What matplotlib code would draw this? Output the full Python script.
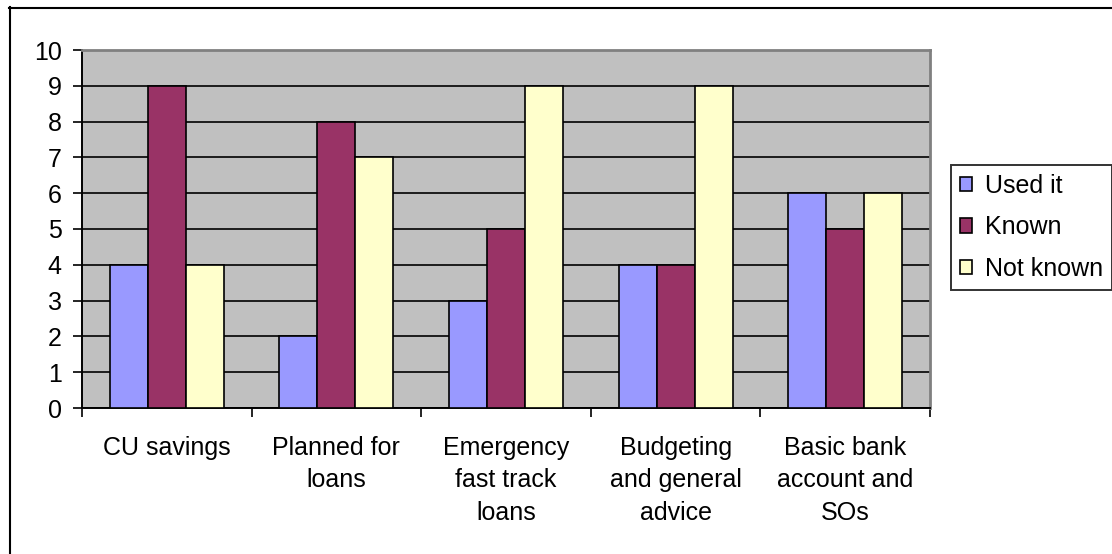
import numpy as np
import matplotlib.pyplot as plt
from matplotlib.lines import Line2D

categories = ["CU savings", "Planned for\nloans", "Emergency\nfast track\nloans",
              "Budgeting\nand general\nadvice", "Basic bank\naccount and\nSOs"]
used_it = [4, 2, 3, 4, 6]
known = [9, 8, 5, 4, 5]
not_known = [4, 7, 9, 9, 6]

series = [("Used it", used_it, "#9999FF"),
          ("Known", known, "#993366"),
          ("Not known", not_known, "#FFFFCC")]

plt.rcParams['font.family'] = ['Liberation Sans', 'DejaVu Sans']
plt.rcParams['font.size'] = 18

W, H = 1112, 554
fig = plt.figure(figsize=(W / 100, H / 100), dpi=100)
ax = fig.add_axes([82 / W, 1 - 408 / H, 848 / W, 358 / H])
ax.set_facecolor("#C0C0C0")

x = np.arange(len(categories))
bw = 0.224
for i, (name, vals, col) in enumerate(series):
    ax.bar(x + (i - 1) * bw, vals, bw, color=col, edgecolor="black",
           linewidth=1.2, label=name, zorder=3)

ax.set_xlim(-0.5, len(categories) - 0.5)
ax.set_ylim(0, 10)
ax.set_yticks(range(0, 11))
ax.yaxis.grid(True, color="black", linewidth=1.2, zorder=1)
ax.set_axisbelow(True)

# category boundaries as major ticks, names as minor ticks
ax.set_xticks(np.arange(-0.5, len(categories), 1.0))
ax.set_xticklabels([])
ax.set_xticks(x, minor=True)
ax.set_xticklabels(categories, minor=True, linespacing=1.45)
ax.tick_params(axis="x", which="major", direction="out", length=6.5, width=1.2)
ax.tick_params(axis="x", which="minor", length=0, pad=20)
ax.tick_params(axis="y", direction="out", length=6.5, width=1.2, pad=8)

for s in ["top", "right"]:
    ax.spines[s].set_color("#808080")
    ax.spines[s].set_linewidth(2)
for s in ["left", "bottom"]:
    ax.spines[s].set_color("black")
    ax.spines[s].set_linewidth(1.4)

leg = fig.legend(loc="upper left", bbox_to_anchor=(951 / W, 1 - 165 / H),
                 frameon=True, fancybox=False, edgecolor="black",
                 handlelength=0.5, handleheight=0.5, handletextpad=0.5,
                 labelspacing=0.7, borderpad=0.35, borderaxespad=0)
leg.get_frame().set_linewidth(1.4)

# chart frame, cut by the image edge on the right and bottom
fig.add_artist(Line2D([9.5 / W, 9.5 / W], [0, 1 - 7 / H], color="black", lw=1.5))
fig.add_artist(Line2D([9 / W, 1], [1 - 7.5 / H, 1 - 7.5 / H], color="black", lw=1.5))

fig.savefig("out.png", dpi=100)
